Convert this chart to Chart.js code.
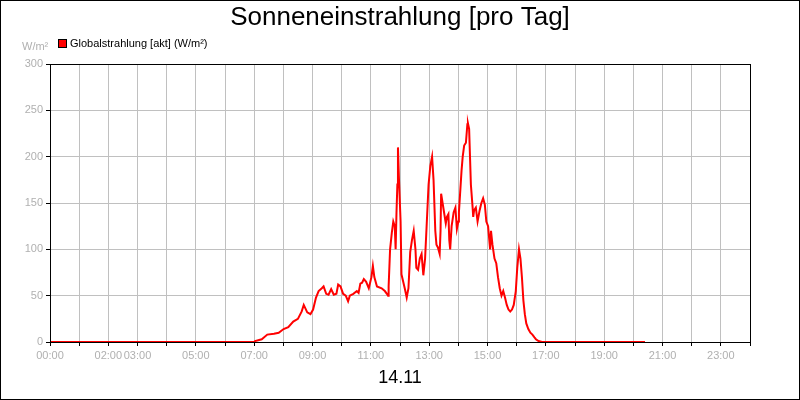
<!DOCTYPE html>
<html><head><meta charset="utf-8">
<script src="https://cdn.jsdelivr.net/npm/chart.js@4"></script>
<style>body{margin:0;background:#fff}canvas{display:block}</style>
</head><body>
<canvas id="c" width="800" height="400"></canvas>
<script>
// time of day in hours, radiation in W/m²
var hours = [0, 7.0, 7.03, 7.26, 7.45, 7.68, 7.84, 8.01, 8.17, 8.34, 8.50, 8.63, 8.70, 8.82, 8.93, 9.02, 9.12, 9.21, 9.32, 9.38, 9.47, 9.55, 9.64, 9.73, 9.82, 9.88, 9.96, 10.05, 10.14, 10.22, 10.28, 10.40, 10.52, 10.58, 10.64, 10.70, 10.76, 10.84, 10.93, 11.02, 11.07, 11.12, 11.21, 11.37, 11.48, 11.55, 11.59, 11.61, 11.66, 11.72, 11.77, 11.82, 11.85, 11.88, 11.91, 11.93, 11.96, 12.02, 12.05, 12.11, 12.17, 12.23, 12.29, 12.35, 12.41, 12.47, 12.53, 12.56, 12.62, 12.68, 12.74, 12.80, 12.86, 12.92, 12.98, 13.04, 13.10, 13.15, 13.21, 13.25, 13.30, 13.36, 13.39, 13.41, 13.46, 13.51, 13.57, 13.61, 13.66, 13.69, 13.72, 13.77, 13.84, 13.90, 13.95, 14.00, 14.02, 14.11, 14.15, 14.20, 14.26, 14.31, 14.33, 14.37, 14.43, 14.49, 14.51, 14.54, 14.60, 14.66, 14.73, 14.79, 14.85, 14.91, 14.96, 15.02, 15.09, 15.12, 15.17, 15.24, 15.30, 15.36, 15.42, 15.48, 15.54, 15.60, 15.66, 15.72, 15.78, 15.84, 15.90, 15.97, 16.02, 16.08, 16.13, 16.18, 16.23, 16.28, 16.33, 16.40, 16.47, 16.54, 16.61, 16.66, 16.75, 16.87, 20.40];
var radiation = [0, 0, 1, 3, 8, 9, 10, 14, 16, 22, 25, 33, 40, 32, 30, 35, 48, 55, 58, 60, 52, 51, 57, 51, 52, 62, 60, 52, 50, 44, 50, 52, 55, 53, 63, 64, 68, 65, 58, 70, 82, 70, 60, 58, 55, 52, 50, 60, 100, 118, 130, 125, 100, 140, 170, 210, 180, 130, 73, 65, 57, 48, 58, 97, 110, 120, 100, 80, 78, 90, 95, 72, 90, 130, 170, 190, 200, 175, 120, 105, 102, 95, 120, 160, 150, 140, 128, 135, 138, 110, 100, 125, 140, 145, 122, 130, 140, 185, 200, 212, 215, 235, 236, 230, 170, 145, 135, 142, 145, 130, 142, 150, 155, 148, 130, 125, 100, 120, 105, 90, 85, 70, 58, 50, 55, 48, 40, 35, 33, 35, 40, 55, 80, 100, 90, 70, 45, 30, 20, 14, 10, 8, 5, 3, 1, 0, 0];
var xLabels = {0: "00:00", 2: "02:00", 3: "03:00", 5: "05:00", 7: "07:00", 9: "09:00", 11: "11:00", 13: "13:00", 15: "15:00", 17: "17:00", 19: "19:00", 21: "21:00", 23: "23:00"};
var yTicks = [0, 50, 100, 150, 200, 250, 300];

var points = hours.map(function(h, i) { return { x: h, y: radiation[i] }; });

var decor = {
  id: 'decor',
  afterDraw: function(chart) {
    var ctx = chart.ctx, a = chart.chartArea;
    ctx.save();
    ctx.strokeStyle = '#000';
    ctx.lineWidth = 1;
    ctx.strokeRect(0.5, 0.5, 799, 399);
    ctx.strokeRect(a.left + 0.5, a.top + 0.5, a.right - a.left, a.bottom - a.top);
    ctx.fillStyle = '#000';
    ctx.textAlign = 'center';
    ctx.textBaseline = 'middle';
    ctx.font = '26px "Liberation Sans", Arial, sans-serif';
    ctx.fillText('Sonneneinstrahlung [pro Tag]', 400, 18);
    ctx.font = '18px "Liberation Sans", Arial, sans-serif';
    ctx.fillText('14.11', 400, 378);
    ctx.textAlign = 'left';
    ctx.font = '11px "Liberation Sans", Arial, sans-serif';
    ctx.fillStyle = '#b0b0b0';
    ctx.fillText('W/m²', 22, 47);
    ctx.fillStyle = '#ff0000';
    ctx.fillRect(58, 39, 8, 9);
    ctx.strokeRect(58.5, 39.5, 8, 8);
    ctx.fillStyle = '#000';
    ctx.fillText('Globalstrahlung [akt] (W/m²)', 70, 44);
    ctx.restore();
  }
};

new Chart(document.getElementById('c'), {
  type: 'line',
  data: { datasets: [{ data: points, borderColor: '#ff0000', borderWidth: 2, pointRadius: 0, tension: 0, fill: false }] },
  options: {
    responsive: false,
    animation: false,
    layout: { padding: { top: 64, right: 50, left: 0, bottom: 0 } },
    plugins: { legend: { display: false }, tooltip: { enabled: false } },
    scales: {
      x: {
        type: 'linear', min: 0, max: 24,
        afterFit: function(s) { s.height = 58; },
        afterBuildTicks: function(s) { var t = []; for (var i = 0; i <= 24; i++) t.push({ value: i }); s.ticks = t; },
        grid: { color: '#c0c0c0', drawTicks: true, tickLength: 4, tickColor: '#000' },
        border: { color: '#000' },
        ticks: { autoSkip: false, maxRotation: 0, color: '#b0b0b0', font: { size: 11, family: '"Liberation Sans", Arial' },
          callback: function(v) { return xLabels[v] || ''; } }
      },
      y: {
        min: 0, max: 300,
        afterFit: function(s) { s.width = 50; },
        afterBuildTicks: function(s) { s.ticks = yTicks.map(function(v) { return { value: v }; }); },
        grid: { color: '#c0c0c0', tickLength: 4, tickColor: '#000' },
        border: { color: '#000' },
        ticks: { color: '#b0b0b0', font: { size: 11, family: '"Liberation Sans", Arial' } }
      }
    }
  },
  plugins: [decor]
});
</script>
</body></html>
